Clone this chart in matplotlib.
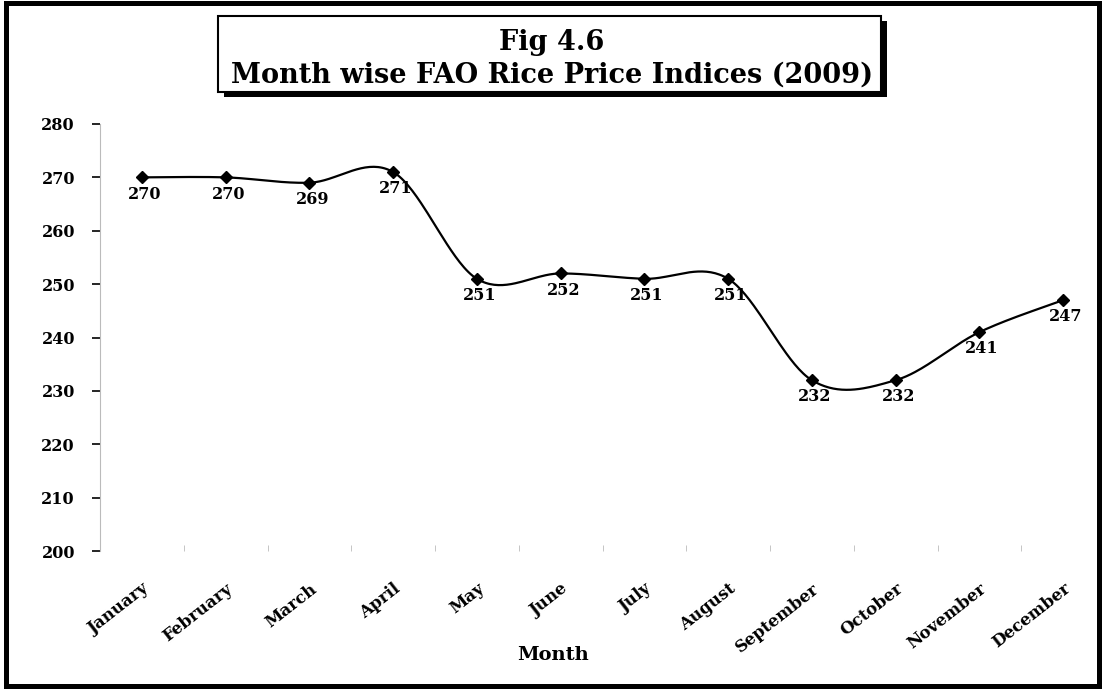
import matplotlib
matplotlib.use("Agg")
from matplotlib import pyplot as plt
from matplotlib.patches import Rectangle
import numpy as np

months = ['January', 'February', 'March', 'April', 'May', 'June', 'July',
          'August', 'September', 'October', 'November', 'December']
prices = [270, 270, 269, 271, 251, 252, 251, 251, 232, 232, 241, 247]
y_ticks = [200, 210, 220, 230, 240, 250, 260, 270, 280]

plt.rcParams['font.family'] = ['DejaVu Serif']
plt.rcParams['font.weight'] = 'bold'

W, H = 1102, 690
fig = plt.figure(figsize=(W / 100, H / 100), dpi=100)


def fx(px):
    return px / W


def fy(py):
    return 1 - py / H


# axes area in pixels: x 100..1105, y 124..551
ax = fig.add_axes([fx(100), fy(551), fx(1105) - fx(100), fy(124) - fy(551)])


def smooth(xs, ys, n=40):
    # excel style smoothed line (bezier through the points)
    P = np.column_stack([xs, ys]).astype(float)
    P = np.vstack([P[0], P, P[-1]])
    out = []
    for i in range(1, len(P) - 2):
        p0, p1, p2, p3 = P[i - 1], P[i], P[i + 1], P[i + 2]
        c1 = p1 + (p2 - p0) / 6
        c2 = p2 - (p3 - p1) / 6
        t = np.linspace(0, 1, n)[:, None]
        seg = ((1 - t) ** 3) * p1 + 3 * ((1 - t) ** 2) * t * c1 + 3 * (1 - t) * t ** 2 * c2 + t ** 3 * p2
        out.append(seg)
    out = np.vstack(out)
    return out[:, 0], out[:, 1]


x = np.arange(len(months))
sx, sy = smooth(x, prices)
ax.plot(sx, sy, color='black', lw=1.6)
ax.plot(x, prices, linestyle='none', marker='D', ms=6, color='black')

for xi, v in zip(x, prices):
    ax.annotate(str(v), (xi, v), xytext=(2, -12), textcoords='offset points',
                ha='center', va='center', fontsize=11.5, fontweight='bold')

ax.set_xlim(-0.5, 11.5)
ax.set_ylim(200, 280)
ax.set_yticks(y_ticks)
ax.set_yticklabels([str(t) for t in y_ticks], fontsize=11.5, fontweight='bold')
ax.set_xticks(x)
ax.set_xticklabels(months, rotation=38, ha='right', va='top', fontsize=12,
                   fontweight='bold', rotation_mode='anchor')
ax.set_xticks(np.arange(-0.5, 12, 1), minor=True)
ax.tick_params(axis='x', which='major', length=0, pad=21)
ax.tick_params(axis='x', which='minor', length=4, direction='in', color='#bbbbbb')
ax.tick_params(axis='y', length=6, width=1.2, pad=12, color='black')

for s in ['top', 'right', 'bottom']:
    ax.spines[s].set_visible(False)
ax.spines['left'].set_color('#bbbbbb')
ax.spines['left'].set_linewidth(0.8)

fig.text(fx(553), fy(655), 'Month', ha='center', va='center', fontsize=14, fontweight='bold')

# title box with shadow
bx0, by0, bx1, by1 = 218, 16, 881, 92
fig.patches.append(Rectangle((fx(bx0 + 6), fy(by1 + 5)), fx(bx1 - bx0), fy(by0) - fy(by1),
                             transform=fig.transFigure, facecolor='black', edgecolor='none'))
fig.patches.append(Rectangle((fx(bx0), fy(by1)), fx(bx1 - bx0), fy(by0) - fy(by1),
                             transform=fig.transFigure, facecolor='white', edgecolor='black', lw=1.5))
fig.text(fx(552), fy(42), 'Fig 4.6', ha='center', va='center', fontsize=19.5, fontweight='bold')
fig.text(fx(552), fy(75), 'Month wise FAO Rice Price Indices (2009)', ha='center', va='center',
         fontsize=19.5, fontweight='bold')

# outer border
fig.patches.append(Rectangle((fx(5.5), fy(685.5)), fx(1099 - 5.5), fy(2.5) - fy(685.5),
                             transform=fig.transFigure, facecolor='none', edgecolor='black', lw=3.6))

fig.savefig('out.png', dpi=100)
